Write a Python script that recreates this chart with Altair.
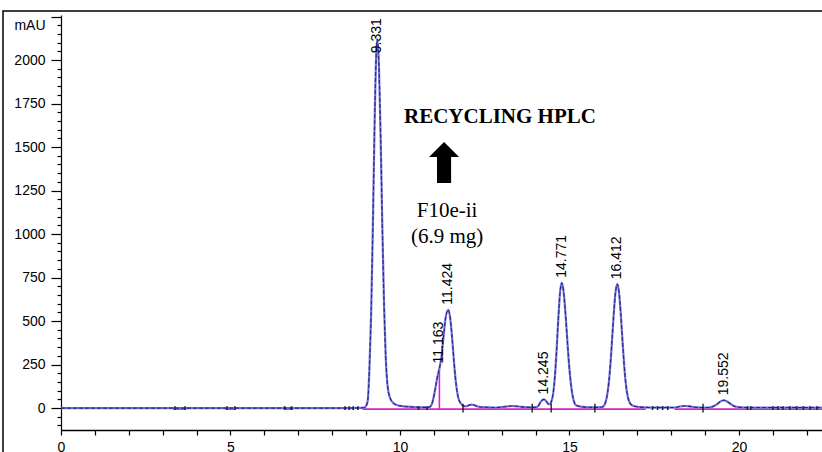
import altair as alt
import pandas as pd

# ---- chromatogram trace (time in min, signal in mAU) ----
times = [0.0, 3.3, 3.7, 4.9, 5.15, 6.6, 6.8, 8.4, 8.8, 8.95, 9.00, 9.05, 9.10, 9.15, 9.20,
         9.25, 9.30, 9.331, 9.38, 9.43, 9.48, 9.53, 9.58, 9.63, 9.70, 9.80, 9.90, 10.10,
         10.40, 10.80, 10.85, 10.92, 10.98, 11.04, 11.10, 11.163, 11.22, 11.28, 11.34,
         11.424, 11.48, 11.54, 11.60, 11.66, 11.72, 11.80, 11.88, 11.95, 12.05, 12.12,
         12.20, 12.30, 12.45, 12.80, 13.10, 13.30, 13.50, 13.75, 14.00, 14.08, 14.15,
         14.245, 14.32, 14.38, 14.43, 14.47, 14.52, 14.57, 14.62, 14.67, 14.72, 14.771,
         14.82, 14.87, 14.92, 14.97, 15.02, 15.07, 15.12, 15.17, 15.25, 15.40, 15.70,
         15.95, 16.01, 16.06, 16.11, 16.16, 16.21, 16.26, 16.31, 16.36, 16.412, 16.46,
         16.51, 16.56, 16.61, 16.66, 16.71, 16.76, 16.83, 16.95, 17.20, 17.60, 18.10,
         18.25, 18.40, 18.55, 18.70, 18.90, 19.10, 19.25, 19.35, 19.45, 19.552, 19.65,
         19.75, 19.85, 20.00, 20.20, 22.45]
signal = [0, 0, 0, 0, 0, 0, 0, 0, 1, 3, 12, 45, 235, 549, 1043,
          1616, 2037, 2120, 1963, 1550, 1040, 595, 292, 135, 62, 30, 18, 10,
          6, 4, 4, 15, 50, 110, 175, 228, 290, 400, 510,
          565, 520, 400, 250, 130, 60, 25, 12, 10, 18, 20,
          16, 9, 5, 3, 8, 12, 9, 4, 4, 12, 35,
          50, 38, 24, 22, 40, 85, 180, 330, 509, 660, 720,
          681, 576, 437, 296, 180, 97, 47, 21, 12, 7, 4,
          5, 12, 31, 72, 145, 256, 401, 552, 668, 712, 668,
          552, 401, 256, 145, 75, 38, 18, 9, 4, 3, 3,
          9, 12, 10, 5, 3, 3, 10, 22, 37, 45, 38,
          24, 12, 5, 3, 3]

# ---- peak labels ----
peak_times = [9.331, 11.163, 11.424, 14.245, 14.771, 16.412, 19.552]
peak_heights = [2120, 228, 565, 50, 720, 712, 45]
peak_labels = ["9.331", "11.163", "11.424", "14.245", "14.771", "16.412", "19.552"]

# ---- integration baseline (magenta) ----
base_start = [3.3, 4.85, 6.6, 8.9, 18.1]
base_end = [3.7, 5.15, 6.85, 17.25, 22.45]
drop_time = [11.163]
drop_top = [228]

# ---- integration event marks ----
event_major = [11.86, 13.9, 14.46, 15.75, 18.94]
event_minor = [3.36, 3.66, 4.9, 5.13, 6.6, 6.8, 8.38, 8.5, 8.62, 8.76, 10.55, 10.8,
               17.45, 17.6, 17.75, 17.9, 20.25, 20.35, 21.0, 21.15, 21.3, 21.5, 21.7,
               21.9, 22.1, 22.3]

# ---- annotations ----
title_text = ["RECYCLING HPLC"]
sample_lines = ["F10e-ii", "(6.9 mg)"]

W, H = 761, 415
X_DOM = [0, 22.45]
Y_DOM = [-126, 2259]

xs = alt.Scale(domain=X_DOM, nice=False, zero=False)
ys = alt.Scale(domain=Y_DOM, nice=False, zero=False)

x_axis = alt.Axis(values=list(range(0, 23)), format="d",
                  labelExpr="datum.value % 5 === 0 ? datum.label : ''",
                  tickSize=5, labelPadding=5, labelFontSize=14, labelFont="Liberation Sans",
                  labelColor="black", tickColor="black", domainColor="black", domainWidth=1.6,
                  tickWidth=1.2, grid=False, title=None, labelOverlap=False, labelFlush=False)
y_axis = alt.Axis(values=list(range(-100, 2251, 50)), format="d",
                  labelExpr="(datum.value % 250 === 0 && datum.value >= 0 && datum.value <= 2000) ? datum.label : ''",
                  tickSize={"condition": {"test": "datum.value % 250 === 0", "value": 10}, "value": 4},
                  labelPadding=6, labelFontSize=14, labelFont="Liberation Sans",
                  labelColor="black", tickColor="black", domainColor="black", domainWidth=1.2,
                  tickWidth=1.2, grid=False, labelOverlap=False, labelFlush=False,
                  title="mAU", titleAngle=0, titleAlign="right", titleBaseline="middle",
                  titleX=-16, titleY=10, titleFontSize=14, titleFont="Liberation Sans",
                  titleFontWeight="normal", titleColor="black")


def X(field="t"):
    return alt.X(f"{field}:Q", scale=xs, axis=x_axis)


def Y(field="a"):
    return alt.Y(f"{field}:Q", scale=ys, axis=y_axis)


trace_df = pd.DataFrame({"t": times, "a": signal})
peaks_df = pd.DataFrame({"t": peak_times, "a": peak_heights, "lab": peak_labels})
base_df = pd.DataFrame({"t": base_start, "t2": base_end, "a": [-6] * len(base_start)})
drop_df = pd.DataFrame({"t": drop_time, "a": [-6], "a2": drop_top})
evmaj_df = pd.DataFrame({"t": event_major, "a": [-25] * len(event_major), "a2": [25] * len(event_major)})
evmin_df = pd.DataFrame({"t": event_minor, "a": [-11] * len(event_minor), "a2": [11] * len(event_minor)})

base = alt.Chart(base_df).mark_rule(color="#e020c0", strokeWidth=1.6).encode(
    x=X(), x2="t2:Q", y=Y())

drop = alt.Chart(drop_df).mark_rule(color="#e020c0", strokeWidth=1.6).encode(
    x=X(), y=Y(), y2="a2:Q")

halo = alt.Chart(trace_df).mark_line(color="#7474d4", strokeWidth=2.2, interpolate="monotone").encode(
    x=X(), y=Y())
dash = alt.Chart(trace_df).mark_line(color="#25258c", strokeWidth=1.1, strokeDash=[4, 2],
                                     interpolate="monotone").encode(x=X(), y=Y())

evmaj = alt.Chart(evmaj_df).mark_rule(color="#111111", strokeWidth=1.3).encode(
    x=X(), y=Y(), y2="a2:Q")
evmin = alt.Chart(evmin_df).mark_rule(color="#222244", strokeWidth=1.6).encode(
    x=X(), y=Y(), y2="a2:Q")

lab_main = alt.Chart(peaks_df.iloc[:1]).mark_text(
    angle=270, align="left", baseline="middle", dx=-14, fontSize=14,
    font="Liberation Sans", color="black").encode(x=X(), y=Y(), text="lab:N")
lab_rest = alt.Chart(peaks_df.iloc[1:]).mark_text(
    angle=270, align="left", baseline="middle", dx=5, fontSize=14,
    font="Liberation Sans", color="black").encode(x=X(), y=Y(), text="lab:N")

title_df = pd.DataFrame({"t": [12.95], "a": [1640], "txt": title_text})
title = alt.Chart(title_df).mark_text(
    font="Liberation Serif", fontSize=21, fontWeight="bold", align="center",
    baseline="alphabetic", color="black").encode(x=X(), y=Y(), text="txt:N")

sample_df = pd.DataFrame({"t": [11.39, 11.39], "a": [1098, 948], "txt": sample_lines})
sample = alt.Chart(sample_df).mark_text(
    font="Liberation Serif", fontSize=21, align="center", baseline="alphabetic",
    color="black").encode(x=X(), y=Y(), text="txt:N")

arrow_path = "M0,-1.37 L1,-0.37 L0.47,-0.37 L0.47,1.37 L-0.47,1.37 L-0.47,-0.37 L-1,-0.37 Z"
arrow_df = pd.DataFrame({"t": [11.30], "a": [1411]})
arrow = alt.Chart(arrow_df).mark_point(
    shape=arrow_path, filled=True, fill="black", strokeWidth=0, size=900, opacity=1).encode(
    x=X(), y=Y())

frame = alt.Chart(pd.DataFrame({"k": [0]})).mark_rect(
    fill=None, stroke="black", strokeWidth=1.5).encode(
    x=alt.value(-58), x2=alt.value(W + 20), y=alt.value(-4), y2=alt.value(H + 40))

chart = alt.layer(base, drop, halo, dash, evmaj, evmin, lab_main, lab_rest,
                  title, sample, arrow, frame).properties(
    width=W, height=H,
    autosize=alt.AutoSizeParams(type="none"),
    padding={"left": 61, "top": 15, "right": 0, "bottom": 22},
    background="white",
).configure_view(stroke=None)

chart.save("out.html", embed_options={"renderer": "svg", "actions": False})
